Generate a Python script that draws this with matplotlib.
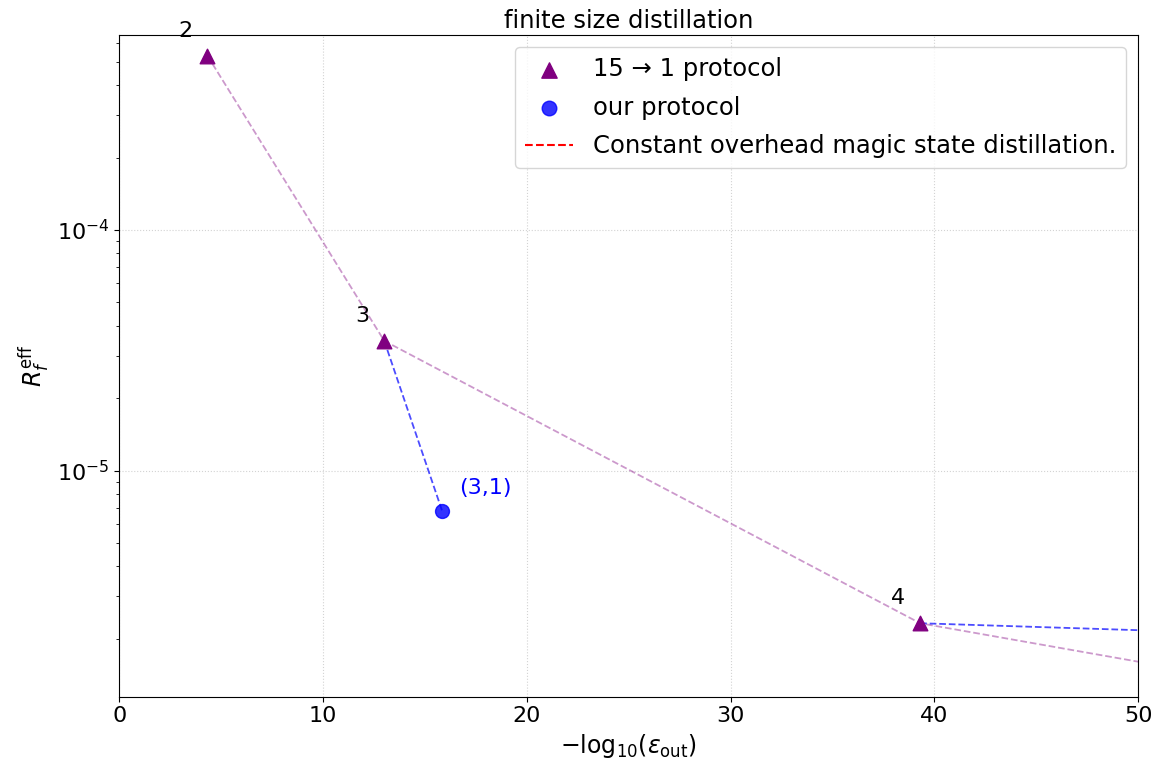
import matplotlib.pyplot as plt

# 15 -> 1 protocol levels
levels = [2, 3, 4, 5]
x_15to1 = [4.32, 13.0, 39.3, 118.0]
r_15to1 = [5.3e-4, 3.46e-5, 2.32e-6, 1.55e-7]

# our protocol
our_labels = ['(3,1)']
x_ours = [15.85]
r_ours = [6.76e-6]

# connections from the 15->1 points to ours (dashed blue)
x_link3 = [13.0, 15.85]
r_link3 = [3.46e-5, 6.76e-6]
x_link4 = [39.3, 60.0]
r_link4 = [2.32e-6, 2.04e-6]

# constant overhead line (off the visible range)
x_const = []
r_const = []

fig, ax = plt.subplots(figsize=(11.59, 7.68), dpi=100)

ax.plot(x_15to1, r_15to1, '--', color='purple', alpha=0.4, lw=1.3, zorder=2)
ax.plot(x_link3, r_link3, '--', color='blue', alpha=0.7, lw=1.3, zorder=2)
ax.plot(x_link4, r_link4, '--', color='blue', alpha=0.7, lw=1.3, zorder=2)

ax.scatter(x_15to1, r_15to1, marker='^', s=110, color='purple',
           label=r'15 → 1 protocol', zorder=3)
ax.scatter(x_ours, r_ours, marker='o', s=100, color='blue', alpha=0.8,
           label='our protocol', zorder=3)
ax.plot(x_const, r_const, '--', color='red',
        label='Constant overhead magic state distillation.')

for lv, x, r in zip(levels, x_15to1, r_15to1):
    if x < 50:
        ax.annotate(str(lv), (x, r), xytext=(-16, 18), textcoords='offset points',
                    ha='center', va='center', fontsize=16)
for lab, x, r in zip(our_labels, x_ours, r_ours):
    ax.annotate(lab, (x, r), xytext=(31, 17), textcoords='offset points',
                ha='center', va='center', fontsize=16, color='blue')

ax.set_yscale('log')
ax.set_xlim(0, 50)
ax.set_ylim(1.15e-6, 6.44e-4)
ax.grid(True, which='major', linestyle=':', color='lightgray', lw=0.8)
ax.tick_params(labelsize=16)
ax.set_xlabel(r'$-\mathrm{log}_{10}(\varepsilon_{\mathrm{out}})$', fontsize=17)
ax.set_ylabel(r'$R_f^{\mathrm{eff}}$', fontsize=17)
ax.set_title('finite size distillation', fontsize=17.5, pad=5)
ax.legend(loc='upper right', fontsize=17.5, labelspacing=0.6, markerscale=1.05)

fig.subplots_adjust(left=0.103, right=0.982, top=0.954, bottom=0.093)
fig.savefig('out.png')
